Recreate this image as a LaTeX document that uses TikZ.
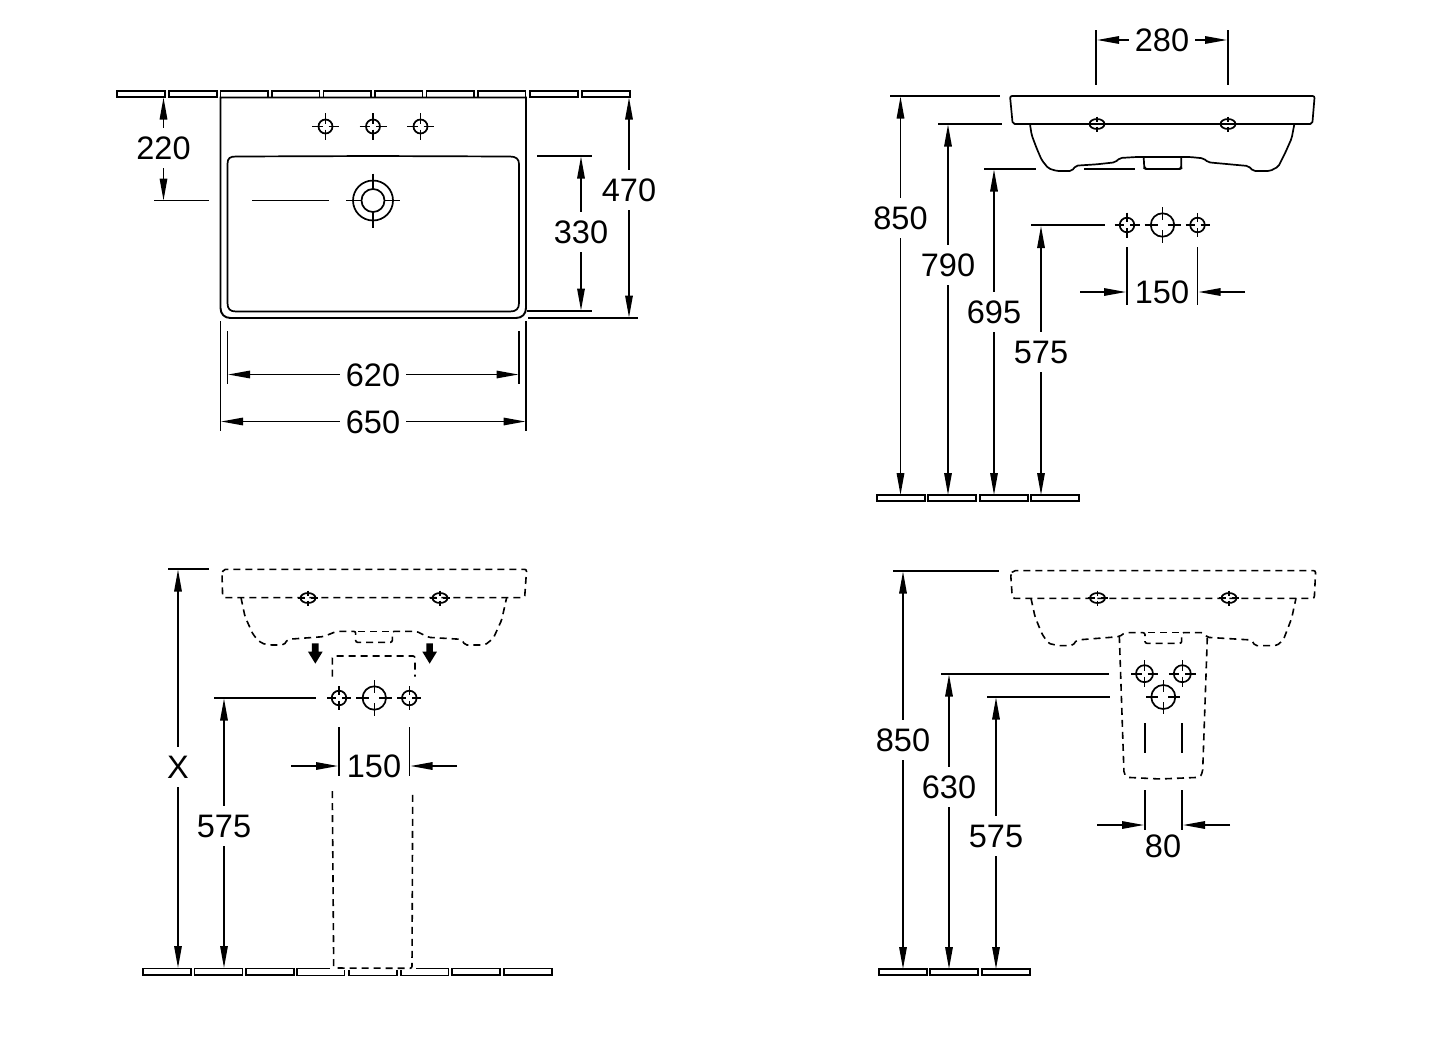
\documentclass[tikz,border=0pt]{standalone}
\usepackage{fontspec}
\setmainfont{Liberation Sans}
\usetikzlibrary{arrows.meta}
\tikzset{
  ln/.style={line width=1.7pt,black},
  thinln/.style={line width=1.6pt,black},
  dsh/.style={line width=1.6pt,black,dash pattern=on 7pt off 5pt,rounded corners=2pt},
  dimarrow/.style={line width=1.5pt,black,-{Stealth[length=22pt,width=7.5pt,inset=0pt]}},
  dimtext/.style={font=\fontsize{32.5pt}{34pt}\selectfont,inner xsep=6pt,inner ysep=8.4pt,text height=23.3pt,text depth=0pt},
  outline/.style={line width=1.7pt,black,rounded corners=2pt,line join=round},
}
% name, x, y of text, top end, bottom end, text
\newcommand{\vdimn}[6]{%
  \node[dimtext] (#1) at (#2,#3) {#6};
  \coordinate (#1-t) at (#2,#4);
  \coordinate (#1-b) at (#2,#5);
  \draw[dimarrow] (#1.north) -- (#1-t);
  \draw[dimarrow] (#1.south) -- (#1-b);}
% name, x of text, y, left end, right end, text
\newcommand{\hdimn}[6]{%
  \node[dimtext] (#1) at (#2,#3) {#6};
  \coordinate (#1-l) at (#4,#3);
  \coordinate (#1-r) at (#5,#3);
  \draw[dimarrow] (#1.west) -- (#1-l);
  \draw[dimarrow] (#1.east) -- (#1-r);}
% x, y, radius, arm length, inner end of arm
\newcommand{\holemark}[5]{%
  \draw[ln] (#1,#2) circle [radius=#3pt];
  \draw[thinln] (#1-#4,#2) -- (#1-#5,#2) (#1+#5,#2) -- (#1+#4,#2)
    (#1,#2-#4) -- (#1,#2-#5) (#1,#2+#5) -- (#1,#2+#4);}
% x, y: oval hole seen from the side
\newcommand{\ovalmark}[2]{%
  \draw[ln] (#1,#2) ellipse [x radius=7.5pt,y radius=5pt];
  \draw[thinln] (#1-10,#2) -- (#1-3,#2) (#1+3,#2) -- (#1+10,#2)
    (#1,#2-7.5) -- (#1,#2-2.5) (#1,#2+2.5) -- (#1,#2+7.5);}
% x, y: closed tile
\newcommand{\tile}[2]{\draw[ln] (#1,#2) rectangle ++(48,6.3);}
\begin{document}
\begin{tikzpicture}[x=1pt,y=-1pt]
\useasboundingbox (0,0) rectangle (1440,1042);
\fill[white] (0,0) rectangle (1440,1042);

%% ---------- top left: plan view ----------
\tile{117}{91} \tile{169}{91} \tile{530}{91} \tile{582}{91}
\foreach \tx in {220.5,272,323.5,375,426.5,478}
  \draw[ln] (\tx,97.5) -- (\tx,91) -- (\tx+47.5,91) -- (\tx+47.5,97.5);
\draw[line width=1.9pt] (220.5,97.5) -- (526,97.5) -- (526,308)
  .. controls (526,314) and (522,318) .. (516,318) -- (230.5,318)
  .. controls (224.5,318) and (220.5,314) .. (220.5,308) -- cycle;
\draw[ln] (227.5,164) .. controls (227.5,158) and (230,156.5) .. (236,156.5)
  -- (373,156) -- (510,156.5) .. controls (516,156.5) and (519,159) .. (519,164)
  -- (519,303) .. controls (519,309) and (516,311.5) .. (510,311.5)
  -- (236,311.5) .. controls (230,311.5) and (227.5,309) .. (227.5,303) -- cycle;
\holemark{325.5}{126.5}{7}{13.5}{3}
\holemark{373}{126.5}{7}{13.5}{3}
\holemark{420.5}{126.5}{7}{13.5}{3}
\draw[ln] (373,200.5) circle [radius=20pt] (373,200.5) circle [radius=11.5pt];
\draw[thinln] (346,200.5) -- (361.5,200.5) (384.5,200.5) -- (400,200.5)
  (373,173.5) -- (373,189) (373,212) -- (373,227.5);
\draw[ln] (154,200.5) -- (209,200.5) (252,200.5) -- (329,200.5);
\draw[ln] (537,156) -- (592,156) (527,311) -- (592,311) (528,318) -- (638,318);
\draw[thinln] (227.5,331) -- (227.5,384) (519,331) -- (519,384)
  (220.5,321) -- (220.5,431) (526,321) -- (526,431);
\vdimn{a220}{163.5}{148}{97.5}{200.5}{220}
\vdimn{a330}{581}{232}{156.5}{310.5}{330}
\vdimn{a470}{629}{190}{97.5}{317.5}{470}
\hdimn{a620}{373}{374.5}{228}{518.5}{620}
\hdimn{a650}{373}{421.5}{221}{525.5}{650}

%% ---------- top right: side view ----------
\begin{scope}[shift={(990,85)},x=.3333pt,y=-.3333pt]
  \draw[outline] (60,33) -- (974,33) -- (967,117) -- (68,117) -- cycle;
  \draw[outline] (120,118) -- (125,150) -- (140,190) -- (155,225) -- (175,250)
    -- (200,258) -- (245,258) -- (258,242) -- (320,238) -- (375,232) -- (390,219)
    -- (440,216) -- (600,216) -- (640,220) -- (655,232) -- (720,238) -- (775,243)
    -- (790,258) -- (840,258) -- (865,245) -- (885,205) -- (905,160) -- (913,118);
  \draw[outline] (461,216) -- (463,250) -- (467,252) -- (570,252) -- (574,250) -- (574,216);
\end{scope}
\ovalmark{1097}{124}
\ovalmark{1228}{124}
\draw[ln] (890,96) -- (1000,96) (938,124) -- (1002,124)
  (984,169) -- (1036,169) (1084,169) -- (1135,169) (1031,225) -- (1105,225);
\holemark{1127}{225}{7.3}{12.5}{3}
\holemark{1162.5}{225}{11.7}{18}{5}
\holemark{1197.5}{225}{7.3}{12}{3}
\draw[thinln] (1096,30) -- (1096,85) (1228,30) -- (1228,85)
  (1127,247) -- (1127,305) (1197.5,247) -- (1197.5,305);
\hdimn{b280}{1162}{40}{1097}{1227}{280}
\node[dimtext] (b150) at (1162,292) {150};
\coordinate (b150-la) at (1080,292); \coordinate (b150-lb) at (1126,292);
\coordinate (b150-ra) at (1245,292); \coordinate (b150-rb) at (1198.5,292);
\draw[dimarrow] (b150-la) -- (b150-lb);
\draw[dimarrow] (b150-ra) -- (b150-rb);
\vdimn{b850}{900.5}{218}{96.5}{495}{850}
\vdimn{b790}{948}{265}{124.5}{495}{790}
\vdimn{b695}{994}{312}{169.5}{495}{695}
\vdimn{b575}{1041}{352}{226}{495}{575}
\tile{877}{495} \tile{928}{495} \tile{980}{495} \tile{1031}{495}

%% ---------- bottom left ----------
\begin{scope}[shift={(210,560)},x=.3333pt,y=-.3333pt]
  \draw[dsh] (36,42) -- (40,28) -- (950,28) -- (944,113) -- (38,113) -- cycle;
  \draw[dsh] (93,113) -- (105,170) -- (130,225) -- (155,250) -- (180,255) -- (222,255)
    -- (233,238) -- (340,230) -- (380,214) -- (437,214) -- (437,247) -- (547,247)
    -- (547,214) -- (620,214) -- (655,232) -- (755,238) -- (765,255) -- (825,255)
    -- (850,235) -- (875,180) -- (890,113);
  \draw[dsh] (445,214) -- (540,214);
  \draw[dsh] (367,350) -- (367,288) -- (615,288) -- (615,350);
  \foreach \ax in {316,659}
    \fill[black] (\ax-10,250) -- (\ax+10,250) -- (\ax+10,275) -- (\ax+22,275)
      -- (\ax,311) -- (\ax-22,275) -- (\ax-10,275) -- cycle;
\end{scope}
\ovalmark{308}{598}
\ovalmark{440}{598}
\draw[ln] (214,698) -- (316,698) (168,569) -- (209,569);
\holemark{339}{698}{7.3}{12}{3}
\holemark{374.3}{698}{11.7}{18}{5}
\holemark{409.3}{698}{7.3}{12}{3}
\draw[thinln] (339,727) -- (339,776) (409.5,727) -- (409.5,776);
\node[dimtext] (c150) at (374,766) {150};
\coordinate (c150-la) at (291,766); \coordinate (c150-lb) at (338,766);
\coordinate (c150-ra) at (457,766); \coordinate (c150-rb) at (410.5,766);
\draw[dimarrow] (c150-la) -- (c150-lb);
\draw[dimarrow] (c150-ra) -- (c150-rb);
\draw[dsh] (332.3,791) -- (333.7,968) -- (412,968.3) -- (412.7,791);
\vdimn{cX}{178}{767}{569.5}{968}{X}
\vdimn{c575}{224}{826}{698.5}{968}{575}
\tile{143}{968.5} \tile{194.5}{968.5} \tile{246}{968.5}
\tile{452}{968.5} \tile{504}{968.5}
\draw[ln] (330,968.5) -- (297,968.5) -- (297,975.5) -- (344.5,975.5) -- (344.5,970);
\draw[ln] (349,970) -- (349,975.5) -- (397,975.5) -- (397,970);
\draw[ln] (416,968.5) -- (448.5,968.5) -- (448.5,975.5) -- (400.7,975.5) -- (400.7,970);

%% ---------- bottom right ----------
\begin{scope}[shift={(1000,560)},x=.3333pt,y=-.3333pt]
  \draw[dsh] (32,42) -- (40,32) -- (947,32) -- (943,115) -- (37,115) -- cycle;
  \draw[dsh] (93,115) -- (105,170) -- (125,220) -- (145,250) -- (175,257) -- (218,257)
    -- (230,240) -- (358,230) -- (375,218) -- (435,218) -- (435,250) -- (545,250)
    -- (545,218) -- (610,218) -- (622,232) -- (755,240) -- (765,257) -- (830,257)
    -- (850,240) -- (875,175) -- (888,115);
  \draw[dsh] (445,217) -- (538,217);
  \draw[dsh] (358,228) -- (372,640) -- (380,652) -- (480,657) -- (600,652) -- (608,635) -- (622,232);
\end{scope}
\ovalmark{1097.5}{598}
\ovalmark{1229}{598}
\draw[ln] (893,571) -- (999,571) (941,673.7) -- (1109,673.7) (987,697) -- (1110,697);
\holemark{1144.5}{673.7}{8.5}{13.5}{3}
\holemark{1182.3}{673.7}{8.5}{13.5}{3}
\holemark{1163.3}{697}{12}{17}{5}
\draw[thinln] (1144.7,723) -- (1144.7,753) (1182,723) -- (1182,753)
  (1145,790) -- (1145,830) (1182,790) -- (1182,830);
\node[dimtext] (d80) at (1163,846) {80};
\coordinate (d80-la) at (1097,825); \coordinate (d80-lb) at (1144,825);
\coordinate (d80-ra) at (1230,825); \coordinate (d80-rb) at (1183,825);
\draw[dimarrow] (d80-la) -- (d80-lb);
\draw[dimarrow] (d80-ra) -- (d80-rb);
\vdimn{d850}{903}{740}{571.5}{969}{850}
\vdimn{d630}{949}{787}{674.5}{969}{630}
\vdimn{d575}{996}{836}{697.5}{969}{575}
\tile{879}{969} \tile{930}{969} \tile{982}{969}
\end{tikzpicture}
\end{document}
